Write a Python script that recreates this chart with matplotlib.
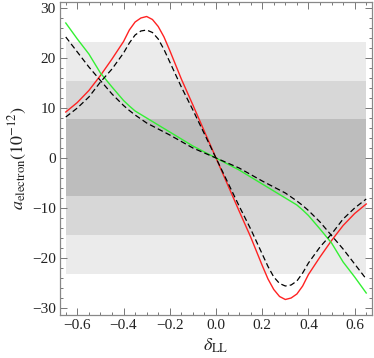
import numpy as np
import matplotlib
matplotlib.use("Agg")
import matplotlib.pyplot as plt
from matplotlib.ticker import MultipleLocator

plt.rcParams['font.family'] = ['Liberation Serif', 'DejaVu Serif']
plt.rcParams['mathtext.fontset'] = 'stix'

# --- data ---
delta = [-0.65, -0.60, -0.55, -0.50, -0.45, -0.40, -0.375, -0.35, -0.325, -0.30, -0.275, -0.25,
         -0.225, -0.20, -0.15, -0.10, -0.05, 0.0, 0.05, 0.10, 0.15, 0.20, 0.225, 0.25, 0.275, 0.30,
         0.325, 0.35, 0.375, 0.40, 0.45, 0.50, 0.55, 0.60, 0.65]

a_red = [9.2, 11.1, 13.5, 16.5, 19.8, 23.3, 25.6, 27.2, 28.0, 28.3, 27.7, 26.3,
         24.2, 21.5, 15.8, 10.6, 5.3, 0.0, -5.3, -10.6, -15.8, -21.5, -24.2, -26.3, -27.7, -28.3,
         -28.0, -27.2, -25.6, -23.3, -19.8, -16.5, -13.5, -11.1, -9.2]

a_dash1 = [8.2, 10.0, 12.2, 15.2, 17.8, 21.0, 23.0, 24.6, 25.4, 25.6, 25.1, 23.8,
           21.7, 19.2, 14.2, 9.6, 4.8, 0.0, -4.8, -9.6, -14.2, -19.2, -21.7, -23.8, -25.1, -25.6,
           -25.4, -24.6, -23.0, -21.0, -17.8, -15.2, -12.2, -10.0, -8.2]

a_green = [27.0, 23.8, 20.8, 17.0, 14.2, 11.5, 10.4, 9.4, 8.7, 8.0, 7.3, 6.6,
           5.9, 5.2, 3.8, 2.4, 1.2, 0.0, -1.2, -2.4, -3.8, -5.2, -5.9, -6.6, -7.3, -8.0,
           -8.7, -9.4, -10.4, -11.5, -14.2, -17.0, -20.8, -23.8, -27.0]

a_dash2 = [24.2, 21.2, 18.2, 15.5, 12.8, 10.5, 9.5, 8.6, 7.8, 7.0, 6.4, 5.8,
           5.2, 4.6, 3.3, 2.0, 1.0, 0.0, -1.0, -2.0, -3.3, -4.6, -5.2, -5.8, -6.4, -7.0,
           -7.8, -8.6, -9.5, -10.5, -12.8, -15.5, -18.2, -21.2, -24.2]

band_x = [-0.65, 0.65]
band_sigma = [23.1, 15.4, 7.7]
band_colors = ['#ebebeb', '#d7d7d7', '#bdbdbd']

# --- figure ---
fig = plt.figure(figsize=(3.74, 3.58), dpi=100)
ax = fig.add_axes([60/374, 43/358, 312/374, 313/358])

for s, c in zip(band_sigma, band_colors):
    ax.fill_between(band_x, [-s, -s], [s, s], color=c, lw=0, zorder=1)

ax.plot(delta, a_red, color='#ff2222', lw=1.0, zorder=3)
ax.plot(delta, a_green, color='#33f033', lw=1.0, zorder=3)
ax.plot(delta, a_dash1, color='black', lw=0.9, ls=(0, (4.5, 2.5)), zorder=4)
ax.plot(delta, a_dash2, color='black', lw=0.9, ls=(0, (4.5, 2.5)), zorder=4)

ax.set_xlim(-0.675, 0.675)
ax.set_ylim(-31.4, 31.2)

ax.xaxis.set_major_locator(MultipleLocator(0.2))
ax.xaxis.set_minor_locator(MultipleLocator(0.05))
ax.yaxis.set_major_locator(MultipleLocator(10))
ax.yaxis.set_minor_locator(MultipleLocator(2))
ax.xaxis.set_major_formatter(plt.FuncFormatter(lambda v, p: ('%.1f' % v).replace('-', '\u2212')))

ax.tick_params(which='both', direction='in', top=True, right=True, color='#777777',
               labelsize=11, labelcolor='#222222', width=0.7)
ax.tick_params(which='major', length=5, pad=3)
ax.tick_params(which='minor', length=2.5)
for sp in ax.spines.values():
    sp.set_color('#888888')
    sp.set_linewidth(0.9)

ax.set_xlabel(r'$\delta_{\mathrm{LL}}$', fontsize=13, labelpad=3, color='#222222')
ax.set_ylabel(r'$a_{\mathrm{electron}}\left(10^{-12}\right)$', fontsize=13, labelpad=2, color='#222222')

fig.savefig('out.png', dpi=100)
